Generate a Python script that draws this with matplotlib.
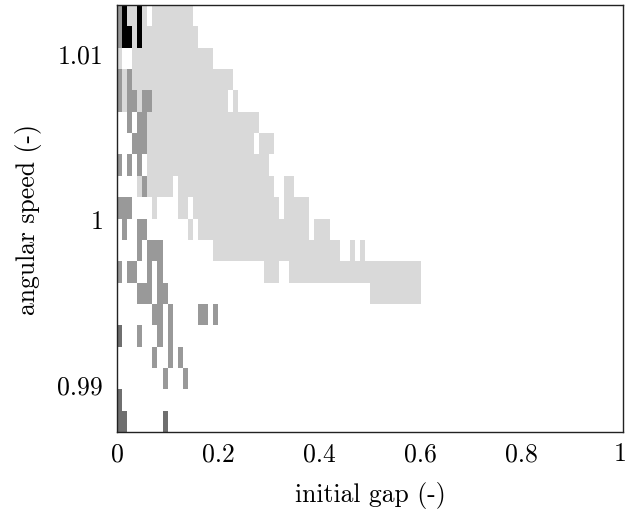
import matplotlib
matplotlib.use('Agg')
import matplotlib.pyplot as plt
import matplotlib.transforms as mtransforms
import numpy as np
from matplotlib.colors import ListedColormap, BoundaryNorm

#-----------------------------------------------------------------
# grid: 100 gap columns (0..1) x 20 speed rows
# levels: 0 white, 1 light grey, 2 grey, 3 dark grey, 4 black
#-----------------------------------------------------------------
n_gap   = 100
gap_min, gap_max = 0.0, 1.0
speed_lo, speed_hi = 0.98710, 1.01290
n_speed = 20

level_colors = ['#ffffff', '#d9d9d9', '#999999', '#6f6f6f', '#000000']
code = {'l': 1, 'g': 2, 'd': 3, 'k': 4}

# runs per row, top row first: (first col, last col, level)
row_runs = [
    [(0, 0, 'g'), (1, 1, 'k'), (2, 3, 'l'), (4, 4, 'k'), (5, 5, 'l'), (7, 14, 'l')],
    [(0, 0, 'g'), (1, 2, 'k'), (3, 3, 'l'), (4, 4, 'k'), (5, 15, 'l')],
    [(0, 0, 'l'), (3, 18, 'l')],
    [(0, 0, 'g'), (1, 1, 'l'), (2, 2, 'g'), (3, 22, 'l')],
    [(0, 0, 'g'), (1, 1, 'l'), (2, 3, 'g'), (4, 4, 'l'), (5, 6, 'g'), (7, 21, 'l'), (23, 23, 'l')],
    [(2, 2, 'g'), (4, 5, 'g'), (6, 27, 'l')],
    [(3, 5, 'g'), (6, 26, 'l'), (28, 30, 'l')],
    [(0, 0, 'g'), (2, 2, 'g'), (4, 4, 'g'), (6, 29, 'l')],
    [(4, 4, 'l'), (5, 5, 'g'), (6, 10, 'l'), (12, 30, 'l'), (33, 34, 'l')],
    [(0, 2, 'g'), (7, 7, 'l'), (12, 13, 'l'), (15, 31, 'l'), (33, 37, 'l')],
    [(1, 1, 'g'), (4, 5, 'g'), (14, 14, 'l'), (16, 37, 'l'), (39, 41, 'l')],
    [(4, 4, 'g'), (6, 8, 'g'), (19, 43, 'l'), (46, 46, 'l'), (48, 48, 'l')],
    [(0, 0, 'g'), (2, 3, 'g'), (6, 6, 'g'), (8, 8, 'g'), (29, 31, 'l'), (34, 59, 'l')],
    [(4, 6, 'g'), (8, 9, 'g'), (50, 59, 'l')],
    [(7, 8, 'g'), (10, 10, 'g'), (16, 17, 'g'), (19, 19, 'g')],
    [(0, 0, 'd'), (4, 4, 'g'), (8, 8, 'g'), (10, 10, 'g')],
    [(7, 7, 'g'), (10, 10, 'g'), (12, 12, 'g')],
    [(9, 9, 'g'), (13, 13, 'g')],
    [(0, 0, 'd')],
    [(0, 1, 'd'), (9, 9, 'd')],
]

x_ticks  = [0, 0.2, 0.4, 0.6, 0.8, 1]
x_labels = ['0', '0.2', '0.4', '0.6', '0.8', '1']
y_ticks  = [0.99, 1.0, 1.01]
y_labels = ['0.99', '1', '1.01']

#-----------------------------------------------------------------
# build the map
#-----------------------------------------------------------------
grid = np.zeros((n_speed, n_gap))
for i, runs in enumerate(row_runs):
    for a, b, c in runs:
        grid[n_speed - 1 - i, a:b + 1] = code[c]

gap_edges   = np.linspace(gap_min, gap_max, n_gap + 1)
speed_edges = np.linspace(speed_lo, speed_hi, n_speed + 1)

plt.rcParams['font.family'] = 'serif'
plt.rcParams['font.serif'] = ['cmr10', 'DejaVu Serif']
plt.rcParams['mathtext.fontset'] = 'cm'

fig = plt.figure(figsize=(6.26, 5.10), dpi=100)
ax = fig.add_axes([117/626, 77/510, 506/626, 427/510])

cmap = ListedColormap(level_colors)
norm = BoundaryNorm(np.arange(-0.5, 5.5, 1), cmap.N)
ax.pcolormesh(gap_edges, speed_edges, grid, cmap=cmap, norm=norm,
              shading='flat', antialiased=False)

ax.set_xlim(gap_min, gap_max)
ax.set_ylim(speed_lo, speed_hi)
ax.set_xticks(x_ticks)
ax.set_xticklabels(x_labels)
ax.set_yticks(y_ticks)
ax.set_yticklabels(y_labels)
ax.tick_params(length=0, labelsize=18.5)
ax.tick_params(axis='x', pad=7)
ax.tick_params(axis='y', pad=10)
for s in ax.spines.values():
    s.set_linewidth(1.0)
    s.set_color('#222222')

# nudge the last x label so it stays inside the figure
last = ax.get_xticklabels()[-1]
last.set_transform(last.get_transform() +
                   mtransforms.ScaledTranslation(-3/100, 0, fig.dpi_scale_trans))

ax.set_xlabel('initial gap (-)', fontsize=18.5, labelpad=11)
ax.set_ylabel('angular speed (-)', fontsize=18.5, labelpad=11)

fig.savefig('out.png', dpi=100)
